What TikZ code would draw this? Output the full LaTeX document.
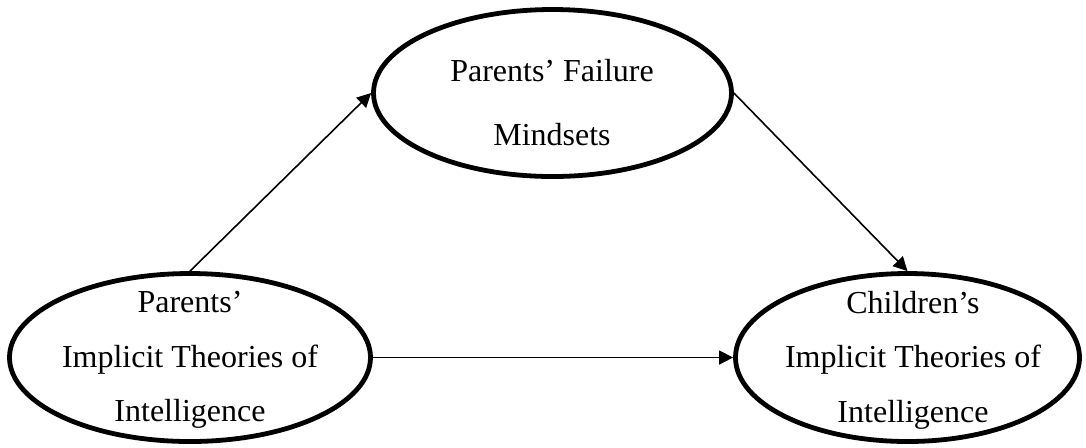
\documentclass[tikz,border=0pt]{standalone}
\usepackage{fontspec}
\setmainfont{Liberation Serif}
\usetikzlibrary{arrows.meta}
\usetikzlibrary{shapes.geometric}
\tikzset{
  >={Triangle[length=7pt,width=7pt]}, % filled arrow head
  oval/.style={ellipse,draw,line width=2.4pt,inner sep=0,minimum height=84pt},
  oval text/.style={align=center,inner sep=0,font=\fontsize{16}{27.25}\selectfont},
  connect/.style={->,line width=0.8pt}
}

\begin{document}
\begin{tikzpicture}[x=0.5pt,y=-0.5pt]
  \useasboundingbox (0,0) rectangle (1086,447);

  % --- OVALS ---
  \node[oval, minimum width=180.5pt] (par-iti) at (190,357.5) {};
  \node[oval, minimum width=179pt, minimum height=83.5pt] (par-fm) at (552.5,93) {};
  \node[oval, minimum width=172pt] (chi-iti) at (907.5,357.5) {};

  % --- TEXTS ---
  \node[oval text] (par-iti-text) at (190,360) {Parents’\\Implicit Theories of\\Intelligence};
  \node[oval text, font=\fontsize{16}{32}\selectfont] (par-fm-text) at (552,103) {Parents’ Failure\\Mindsets};
  \node[oval text] (chi-iti-text) at (913,360) {Children’s\\Implicit Theories of\\Intelligence};

  % --- CONNECTIONS ---
  \draw[connect] (par-iti.north) -- (par-fm.west);
  \draw[connect] (par-fm.east) -- (chi-iti.north);
  \draw[connect] (par-iti.east) -- (chi-iti.west);
\end{tikzpicture}
\end{document}
